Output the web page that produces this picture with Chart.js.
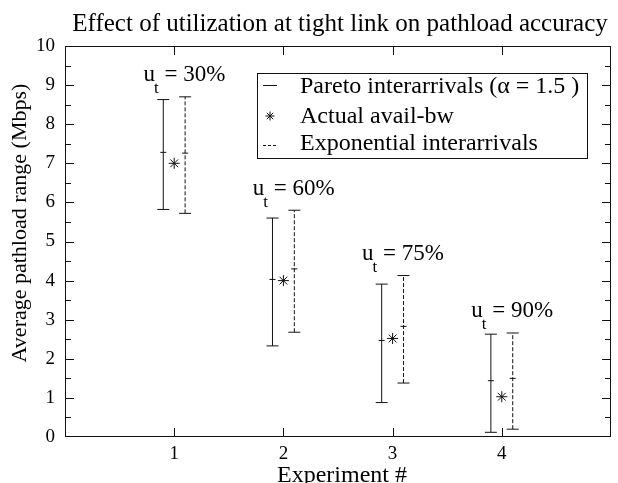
<!DOCTYPE html>
<html>
<head>
<meta charset="utf-8">
<script src="https://cdn.jsdelivr.net/npm/chart.js@4"></script>
<style>
  html, body { margin: 0; padding: 0; background: #fff; }
  #wrap { width: 618px; height: 483px; }
</style>
</head>
<body>
<div id="wrap"><canvas id="chart" width="618" height="483"></canvas></div>
<script>
const experiments = [1, 2, 3, 4];
const utilization = ['30%', '60%', '75%', '90%'];
const paretoLow = [5.82, 2.33, 0.88, 0.12];
const paretoMid = [7.28, 4.03, 2.47, 1.44];
const paretoHigh = [8.63, 5.60, 3.91, 2.63];
const availBw = [7.0, 4.0, 2.52, 1.03];
const expoLow = [5.72, 2.68, 1.38, 0.20];
const expoMid = [7.26, 4.30, 2.83, 1.50];
const expoHigh = [8.70, 5.80, 4.13, 2.66];
const yTicks = [0, 1, 2, 3, 4, 5, 6, 7, 8, 9, 10];

const serif = "'Liberation Serif', 'Times New Roman', serif";
const ink = '#111';

function rangeData(offset, low, high) {
    return experiments.flatMap((e, i) => [
        { x: e + offset, y: low[i] },
        { x: e + offset, y: high[i] },
        { x: e + offset, y: null }
    ]);
}

function midData(offset, mid) {
    return experiments.map((e, i) => ({ x: e + offset, y: mid[i] }));
}

const capRadius = (c) => (c.raw && c.raw.y !== null ? 6 : 0);

// frame, inside ticks, titles, legend and u_t labels
const decorations = {
    id: 'decorations',
    afterDraw(chart) {
        const { ctx, chartArea: a, scales } = chart;
        const xs = scales.x, ys = scales.y;
        ctx.save();
        ctx.strokeStyle = ink;
        ctx.lineWidth = 1;
        ctx.strokeRect(a.left + 0.5, a.top + 0.5, a.right - a.left - 1, a.bottom - a.top - 1);

        ctx.beginPath();
        experiments.forEach(v => {
            const px = Math.round(xs.getPixelForValue(v)) + 0.5;
            ctx.moveTo(px, a.bottom); ctx.lineTo(px, a.bottom - 9);
            ctx.moveTo(px, a.top); ctx.lineTo(px, a.top + 9);
        });
        for (let v = 0.5; v < 10; v += 0.5) {
            const py = Math.round(ys.getPixelForValue(v)) + 0.5;
            const len = Number.isInteger(v) ? 9 : 6;
            ctx.moveTo(a.left, py); ctx.lineTo(a.left + len, py);
            ctx.moveTo(a.right, py); ctx.lineTo(a.right - len, py);
        }
        ctx.stroke();

        ctx.fillStyle = '#000';
        ctx.textAlign = 'center';
        ctx.textBaseline = 'alphabetic';
        ctx.font = '25px ' + serif;
        ctx.fillText('Effect of utilization at tight link on pathload accuracy', (a.left + a.right) / 2 + 2, 31);

        ctx.font = '24px ' + serif;
        ctx.fillText('Experiment #', 342, 482);

        ctx.save();
        ctx.translate(26, 223);
        ctx.rotate(-Math.PI / 2);
        ctx.font = '22px ' + serif;
        ctx.fillText('Average pathload range (Mbps)', 0, 0);
        ctx.restore();

        // u_t labels
        ctx.textAlign = 'left';
        experiments.forEach((e, i) => {
            let x = xs.getPixelForValue(e - 0.28);
            const base = ys.getPixelForValue(Math.max(paretoHigh[i], expoHigh[i]) + 0.4);
            ctx.font = '23px ' + serif;
            ctx.fillText('u', x, base);
            x += ctx.measureText('u').width - 1;
            ctx.font = '17px ' + serif;
            ctx.fillText('t', x, base + 12);
            x += ctx.measureText('t').width;
            ctx.font = '23px ' + serif;
            ctx.fillText(' = ' + utilization[i], x, base);
        });

        // legend box
        const lx = 257, ly = 73, lw = 330, lh = 85;
        ctx.strokeRect(lx + 0.5, ly + 0.5, lw, lh);
        ctx.font = '24px ' + serif;
        ctx.beginPath();
        ctx.moveTo(263, 85.5); ctx.lineTo(277, 85.5);
        ctx.stroke();
        ctx.fillText('Pareto interarrivals (\u03b1 = 1.5 )', 300, 93);
        ctx.fillText('Actual avail-bw', 300, 123);
        ctx.fillText('Exponential interarrivals', 300, 150);
        ctx.setLineDash([3, 2]);
        ctx.beginPath();
        ctx.moveTo(263, 145.5); ctx.lineTo(278, 145.5);
        ctx.stroke();
        ctx.setLineDash([]);
        // star marker in legend
        ctx.beginPath();
        const sx = 270, sy = 116, r = 4.5;
        for (let k = 0; k < 4; k++) {
            const ang = k * Math.PI / 4;
            ctx.moveTo(sx + Math.cos(ang) * r, sy + Math.sin(ang) * r);
            ctx.lineTo(sx - Math.cos(ang) * r, sy - Math.sin(ang) * r);
        }
        ctx.stroke();
        ctx.restore();
    }
};

new Chart(document.getElementById('chart'), {
    type: 'line',
    data: {
        datasets: [
            {
                label: 'Pareto interarrivals',
                data: rangeData(-0.1, paretoLow, paretoHigh),
                borderColor: ink,
                borderWidth: 1,
                spanGaps: false,
                pointStyle: 'line',
                pointRadius: capRadius,
                pointBorderColor: ink,
                pointBorderWidth: 1
            },
            {
                label: 'Pareto mean',
                data: midData(-0.1, paretoMid),
                showLine: false,
                pointStyle: 'line',
                pointRadius: 3,
                pointBorderColor: ink,
                pointBorderWidth: 1
            },
            {
                label: 'Actual avail-bw',
                data: experiments.map((e, i) => ({ x: e, y: availBw[i] })),
                showLine: false,
                pointStyle: 'star',
                pointRadius: 5.5,
                pointBorderColor: ink,
                pointBorderWidth: 1
            },
            {
                label: 'Exponential interarrivals',
                data: rangeData(0.1, expoLow, expoHigh),
                borderColor: ink,
                borderWidth: 1,
                borderDash: [4, 2],
                spanGaps: false,
                pointStyle: 'line',
                pointRadius: capRadius,
                pointBorderColor: ink,
                pointBorderWidth: 1
            },
            {
                label: 'Exponential mean',
                data: midData(0.1, expoMid),
                showLine: false,
                pointStyle: 'line',
                pointRadius: 3,
                pointBorderColor: ink,
                pointBorderWidth: 1
            }
        ]
    },
    options: {
        responsive: false,
        animation: false,
        events: [],
        layout: { padding: { top: 46, right: 4, left: 0, bottom: 0 } },
        scales: {
            x: {
                type: 'linear',
                min: 0,
                max: 5,
                afterFit: (s) => { s.height = 46; },
                afterBuildTicks: (s) => { s.ticks = experiments.map(v => ({ value: v })); },
                grid: { display: false, drawTicks: false },
                border: { display: false },
                ticks: { color: '#000', padding: 6, font: { family: serif, size: 19 } }
            },
            y: {
                min: 0,
                max: 10,
                afterFit: (s) => { s.width = 65; },
                afterBuildTicks: (s) => { s.ticks = yTicks.map(v => ({ value: v })); },
                grid: { display: false, drawTicks: false },
                border: { display: false },
                ticks: { color: '#000', padding: 10, font: { family: serif, size: 19 } }
            }
        },
        plugins: {
            legend: { display: false },
            tooltip: { enabled: false }
        }
    },
    plugins: [decorations]
});
</script>
</body>
</html>
